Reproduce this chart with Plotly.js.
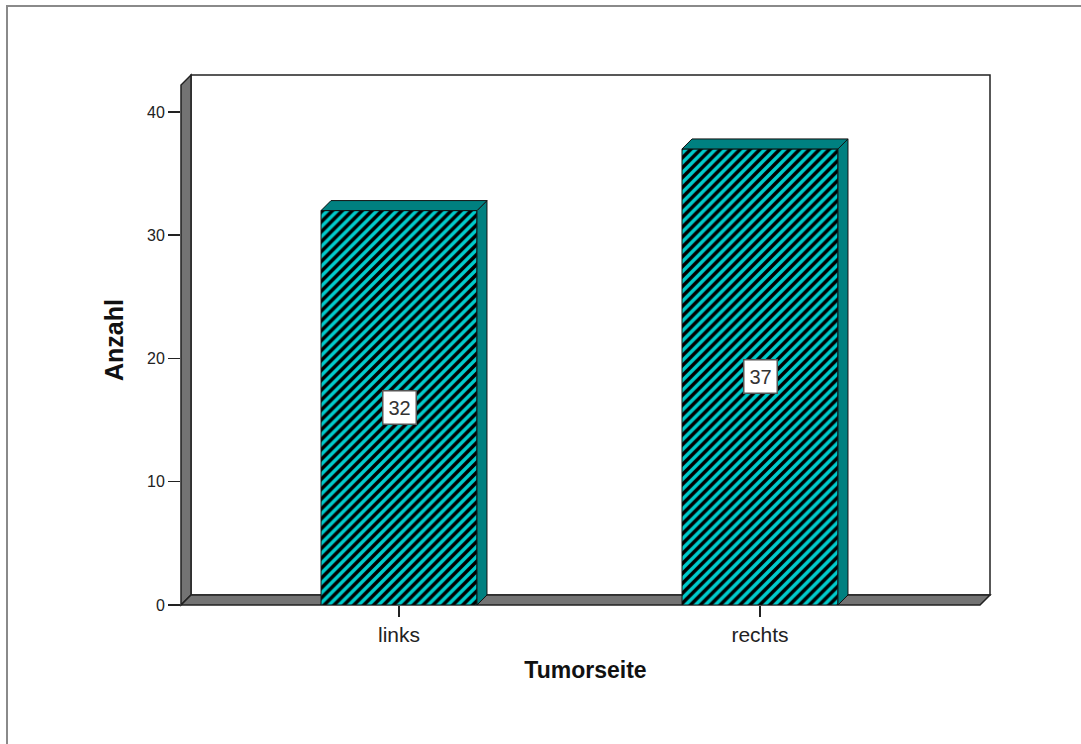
<!DOCTYPE html>
<html>
<head>
<meta charset="utf-8">
<script src="https://cdn.plot.ly/plotly-3.0.1.min.js"></script>
<style>
html,body{margin:0;padding:0;background:#fff;}
#chart{width:1081px;height:744px;}
</style>
</head>
<body>
<div id="chart"></div>
<script>
// ---- data ----
const categories = ["links", "rechts"];
const counts = [32, 37];
const yTicks = [0, 10, 20, 30, 40];
const xTitle = "Tumorseite";
const yTitle = "Anzahl";

// ---- style / geometry ----
const W = 1081, H = 744;
const margin = {l: 181, r: 91, t: 75, b: 139};
const plotW = W - margin.l - margin.r;
const plotH = H - margin.t - margin.b;
const xIdx = categories.map((c, i) => i);
const xRange = [-0.6039, 1.6371];
const yRange = [0, 43.0];
const depthPx = 10;
const dx = depthPx * (xRange[1] - xRange[0]) / plotW;
const dy = depthPx * (yRange[1] - yRange[0]) / plotH;
const dxp = depthPx / plotW, dyp = depthPx / plotH;
const barW = 0.432;
const faceColor = "#00CCCC";
const sideColor = "#008080";
const wallColor = "#737373";

const shapes = [];
// outer frame (top & left)
shapes.push({type: "path", xref: "paper", yref: "paper", layer: "below",
  path: `M ${(7 - margin.l) / plotW},${(margin.t + plotH - 800) / plotH} L ${(7 - margin.l) / plotW},${(margin.t + plotH - 6) / plotH} L ${(1100 - margin.l) / plotW},${(margin.t + plotH - 6) / plotH}`,
  line: {color: "#8a8a8a", width: 2}});
// back wall
shapes.push({type: "rect", xref: "paper", yref: "paper", layer: "below",
  x0: dxp, x1: 1, y0: dyp, y1: 1, fillcolor: "#ffffff", line: {color: "#222", width: 1.5}});
// left wall
shapes.push({type: "path", xref: "paper", yref: "paper", layer: "below",
  path: `M 0,0 L 0,${1 - dyp} L ${dxp},1 L ${dxp},${dyp} Z`,
  fillcolor: wallColor, line: {color: "#222", width: 1.5}});
// floor
shapes.push({type: "path", xref: "paper", yref: "paper", layer: "below",
  path: `M 0,0 L ${1 - dxp},0 L 1,${dyp} L ${dxp},${dyp} Z`,
  fillcolor: wallColor, line: {color: "#222", width: 1.5}});

// 3D faces of bars
counts.forEach((v, i) => {
  const xl = xIdx[i] - barW / 2, xr = xIdx[i] + barW / 2;
  shapes.push({type: "path", xref: "x", yref: "y", layer: "above",
    path: `M ${xr},0 L ${xr + dx},${dy} L ${xr + dx},${v + dy} L ${xr},${v} Z`,
    fillcolor: sideColor, line: {color: "#111", width: 1}});
  shapes.push({type: "path", xref: "x", yref: "y", layer: "above",
    path: `M ${xl},${v} L ${xl + dx},${v + dy} L ${xr + dx},${v + dy} L ${xr},${v} Z`,
    fillcolor: sideColor, line: {color: "#111", width: 1}});
});

const annotations = counts.map((v, i) => ({
  x: xIdx[i], y: v / 2, xref: "x", yref: "y", text: String(v), showarrow: false,
  font: {family: "Liberation Sans, Arial, sans-serif", size: 20, color: "#333"},
  bgcolor: "#ffffff", bordercolor: "#555", borderwidth: 1.5, borderpad: 5
}));

const trace = {
  type: "bar", x: xIdx, y: counts, width: barW,
  marker: {color: faceColor, line: {color: "#111", width: 1},
    pattern: {shape: "/", bgcolor: faceColor, fgcolor: "#000", size: 7, solidity: 0.5, fillmode: "replace"}},
  hoverinfo: "skip"
};

const layout = {
  width: W, height: H, margin: margin,
  paper_bgcolor: "#ffffff", plot_bgcolor: "rgba(0,0,0,0)",
  showlegend: false,
  xaxis: {range: xRange, tickvals: xIdx, ticktext: categories, showgrid: false, zeroline: false,
    showline: false, ticks: "outside", ticklen: 11, tickcolor: "#222", tickwidth: 1.5,
    tickfont: {family: "Liberation Sans, Arial, sans-serif", size: 21, color: "#222"},
    title: {text: xTitle, standoff: 16, font: {family: "Liberation Sans, Arial, sans-serif", size: 23, color: "#111", weight: "bold"}}},
  yaxis: {range: yRange, tickvals: yTicks, showgrid: false, zeroline: false, showline: false,
    ticks: "outside", ticklen: 12, tickcolor: "#222", tickwidth: 1.5,
    tickfont: {family: "Liberation Sans, Arial, sans-serif", size: 16, color: "#222"},
    title: {text: yTitle, standoff: 16, font: {family: "Liberation Sans, Arial, sans-serif", size: 25, color: "#111", weight: "bold"}}},
  shapes: shapes, annotations: annotations, bargap: 0
};

Plotly.newPlot("chart", [trace], layout, {displayModeBar: false, staticPlot: true});
</script>
</body>
</html>
